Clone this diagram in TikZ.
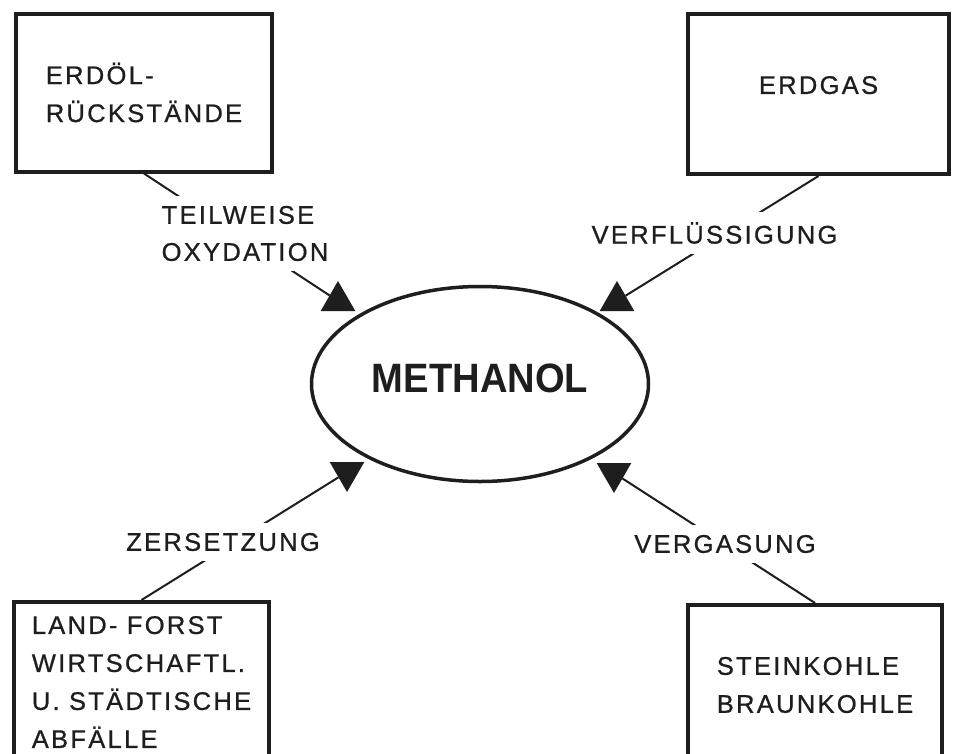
\documentclass[tikz,border=0pt]{standalone}
\usepackage{fontspec}
\usetikzlibrary{shapes.geometric}
\newfontfamily\labfont[LetterSpace=9, FakeBold=0.8]{Liberation Sans}
\newfontfamily\methfont[FakeStretch=0.93]{Liberation Sans Bold}
\definecolor{ink}{HTML}{1E1E1E}
\tikzset{
  srcbox/.style={draw=ink, line width=4pt, rectangle, inner sep=0pt,
    align=left, text=ink, font=\fontsize{25.5}{38}\selectfont\labfont},
  procbox/.style={draw=ink, line width=3.5pt, ellipse, inner sep=0pt,
    minimum width=337pt, minimum height=195pt, text=ink,
    font=\fontsize{41}{46}\selectfont\methfont},
  lab/.style={fill=white, inner sep=0pt, inner xsep=6pt, inner ysep=10pt,
    align=left, text=ink, font=\fontsize{25.5}{37}\selectfont\labfont},
  tri/.style={regular polygon, regular polygon sides=3, fill=ink, draw=none,
    minimum size=40pt, inner sep=0pt, outer sep=0pt},
  conn/.style={draw=ink, line width=2pt}
}
\begin{document}
\begin{tikzpicture}[x=1pt, y=-1pt]
\useasboundingbox[fill=white] (0,0) rectangle (955,753);

\node[srcbox, minimum width=256pt, minimum height=158pt] (b1) at (144,92.5)
  {ERDÖL-\\RÜCKSTÄNDE};
\node[srcbox, minimum width=261pt, minimum height=160pt, text depth=18pt] (b2) at (818.5,94)
  {ERDGAS};
\node[srcbox, minimum width=255pt, minimum height=160pt] (b3) at (141.5,682)
  {LAND- FORST\\WIRTSCHAFTL.\\U. STÄDTISCHE\\ABFÄLLE};
\node[srcbox, minimum width=254pt, minimum height=160pt] (b4) at (815,685)
  {STEINKOHLE\\BRAUNKOHLE};

\node[procbox, text depth=12pt] (m) at (480,384) {METHANOL};

\node[tri] (t1) at (338,301) {};
\node[tri] (t2) at (617,301) {};
\node[tri, shape border rotate=180] (t3) at (347,472) {};
\node[tri, shape border rotate=180] (t4) at (614,473) {};

\draw[conn] (b1.south) -- (t1);
\draw[conn] (b2.south) -- (t2);
\draw[conn] (b3.north) -- (t3);
\draw[conn] (b4.north) -- (t4);

\node[lab] (l1) at (245,233.5) {TEILWEISE\\OXYDATION};
\node[lab] (l2) at (714.5,233) {VERFLÜSSIGUNG};
\node[lab] (l3) at (223,542) {ZERSETZUNG};
\node[lab] (l4) at (725,544) {VERGASUNG};
\end{tikzpicture}
\end{document}
